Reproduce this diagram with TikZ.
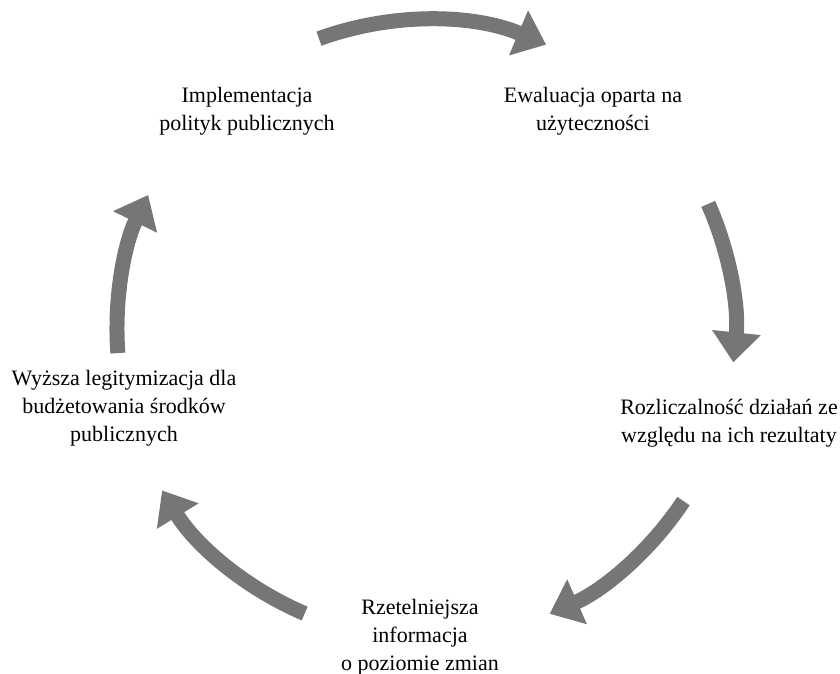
\documentclass[tikz,border=0pt]{standalone}
\usepackage{fontspec}
\setmainfont{Liberation Serif}
\usetikzlibrary{arrows.meta}
\definecolor{cyclegray}{HTML}{767676}
\tikzset{
  cycletext/.style={align=center, inner sep=0pt, font=\fontsize{22}{27.8}\selectfont},
  cyclearrow/.style={line width=15pt, color=cyclegray, -{Triangle[length=30pt, width=47pt]}}
}

\begin{document}
\begin{tikzpicture}[x=1pt, y=1pt]
      \useasboundingbox (0,0) rectangle (840,674);
      \coordinate (c) at (425,344);

      \node[cycletext] (impl) at (247,563) {Implementacja\\polityk publicznych};
      \node[cycletext] (eval) at (593,563) {Ewaluacja oparta na\\użyteczności};
      \node[cycletext] (rozl) at (729,251) {Rozliczalność działań ze\\względu na ich rezultaty};
      \node[cycletext] (rzet) at (420,37) {Rzetelniejsza\\informacja\\o poziomie zmian};
      \node[cycletext] (wyz) at (124,266) {Wyższa legitymizacja dla\\budżetowania środków\\publicznych};

      \draw[cyclearrow] (c) ++(110:310) arc[start angle=110, end angle=67, radius=310];
      \draw[cyclearrow] (c) ++(24:310) arc[start angle=24, end angle=-6, radius=310];
      \draw[cyclearrow] (c) ++(-33.5:310) arc[start angle=-33.5, end angle=-66.3, radius=310];
      \draw[cyclearrow] (c) ++(-113:308) arc[start angle=-113, end angle=-148.6, radius=308];
      \draw[cyclearrow] (c) ++(184.3:308) arc[start angle=184.3, end angle=154, radius=308];
    \end{tikzpicture}
\end{document}
